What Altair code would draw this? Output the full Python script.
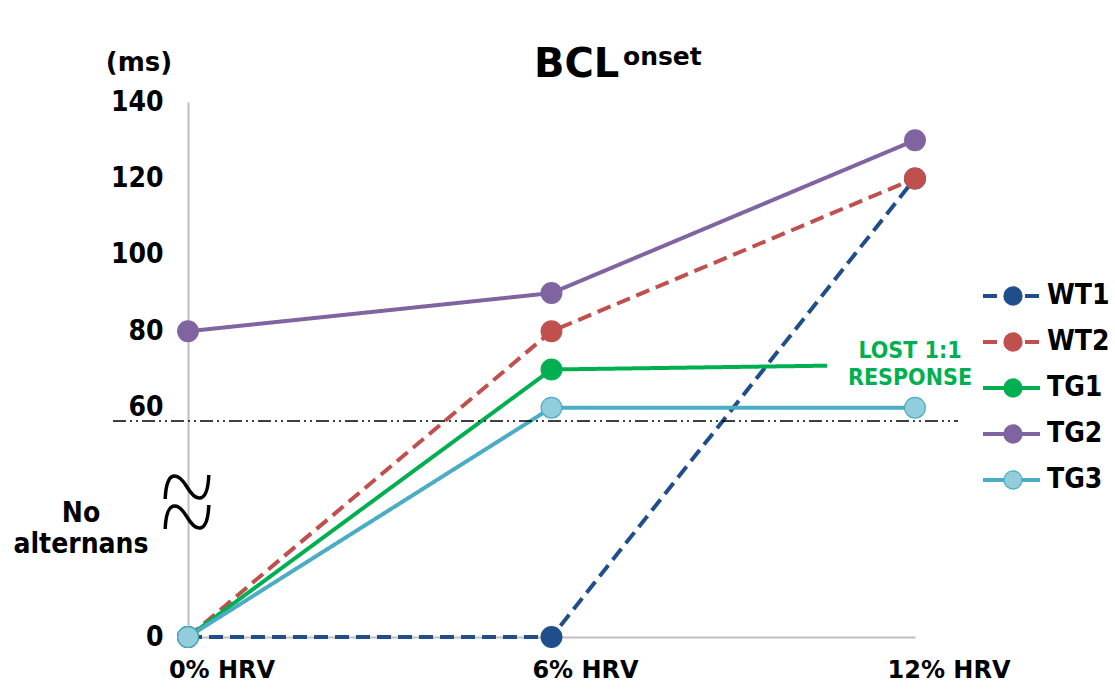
import altair as alt
import pandas as pd

# ---------------- data ----------------
hrv = [0, 6, 12]
hrv_labels = ["0% HRV", "6% HRV", "12% HRV"]
series = ["WT1", "WT2", "TG1", "TG2", "TG3"]
wt1 = [0, 0, 120]
wt2 = [0, 80, 120]
tg1 = [0, 70, None]          # lost 1:1 response at 12% HRV
tg1_tail_hrv = 10.55          # where the TG1 line stops
tg1_tail_val = 71
tg2 = [80, 90, 130]
tg3 = [0, 60, 60]
break_value = 56.5            # dash-dot axis-break line
y_ticks = [0, 60, 80, 100, 120, 140]

line_colors = ["#1F4E8A", "#C0504D", "#00B050", "#8064A2", "#4BACC6"]
marker_colors = ["#1F4E8A", "#C0504D", "#00B050", "#8064A2", "#92CDDC"]
marker_strokes = ["#1F4E8A", "#7A3330", "#00B050", "#8064A2", "#92CDDC"]
dashes = [[14, 7], [14, 7], [1, 0], [1, 0], [1, 0]]
legend_dashes = [[16, 30], [16, 30], [1, 0], [1, 0], [1, 0]]
widths = [4, 4, 3, 3, 3]
sizes = [430, 430, 360, 360, 360]

title_main = ["BCL"]
title_sup = ["onset"]
unit_label = ["(ms)"]
no_alt = ["No", "alternans"]
lost = ["LOST 1:1", "RESPONSE"]

FONT = "DejaVu Sans Condensed, DejaVu Sans"
FONT2 = "DejaVu Sans"

vals = {"WT1": wt1, "WT2": wt2, "TG1": tg1, "TG2": tg2, "TG3": tg3}
line_rows, point_rows = [], []
for s in series:
    for x, v in zip(hrv, vals[s]):
        if v is None:
            continue
        line_rows.append({"series": s, "hrv": x, "value": v})
        point_rows.append({"series": s, "hrv": x, "value": v})
    if s == "TG1":
        line_rows.append({"series": s, "hrv": tg1_tail_hrv, "value": tg1_tail_val})
lines_df = pd.DataFrame(line_rows)
points_df = pd.DataFrame(point_rows)
legend_df = pd.DataFrame({"series": series, "idx": list(range(len(series)))})
xlab_df = pd.DataFrame({"hrv": hrv, "label": hrv_labels})

yscale = alt.Scale(domain=[0, 140], nice=False, zero=True)
xscale = alt.Scale(domain=[0, 12], nice=False)
stroke_scale = alt.Scale(domain=series, range=line_colors)
dash_scale = alt.Scale(domain=series, range=dashes)
width_scale = alt.Scale(domain=series, range=widths)
fill_scale = alt.Scale(domain=series, range=marker_colors)
mstroke_scale = alt.Scale(domain=series, range=marker_strokes)
size_scale = alt.Scale(domain=series, range=sizes)

x_axis = alt.Axis(values=hrv, labels=False, title=None, grid=False,
                  ticks=False, tickSize=0, domainColor="#BFBFBF", domainWidth=2)
X = alt.X("hrv:Q", scale=xscale, axis=x_axis)

lines = alt.Chart(lines_df).mark_line().encode(
    x=X,
    y=alt.Y("value:Q", scale=yscale, axis=alt.Axis(
        values=y_ticks, title=None, grid=False, ticks=False, tickSize=0,
        domainColor="#BFBFBF", domainWidth=2,
        labelFont=FONT, labelFontSize=28, labelFontWeight="bold", labelColor="black",
        labelPadding=25)),
    stroke=alt.Stroke("series:N", scale=stroke_scale, legend=None),
    strokeDash=alt.StrokeDash("series:N", scale=dash_scale, legend=None),
    strokeWidth=alt.StrokeWidth("series:N", scale=width_scale, legend=None),
    detail="series:N",
)

xlabels = alt.Chart(xlab_df).mark_text(font=FONT2, fontSize=24, fontWeight="bold",
                                       color="black", align="center", baseline="alphabetic",
                                       dx=34).encode(
    x=X,
    y=alt.value(576),
    text="label:N",
)

points = alt.Chart(points_df).mark_point(filled=True, opacity=1, shape="circle", strokeWidth=1.2).encode(
    x=X,
    y=alt.Y("value:Q", scale=yscale, axis=None),
    fill=alt.Fill("series:N", scale=fill_scale, legend=None),
    stroke=alt.Stroke("series:N", scale=mstroke_scale, legend=None),
    size=alt.Size("series:N", scale=size_scale, legend=None),
)

break_rule = alt.Chart(pd.DataFrame({"v": [break_value]})).mark_rule(
    color="black", strokeWidth=1.5, strokeDash=[13, 4, 2, 4, 2, 4]).encode(
    y=alt.Y("v:Q", scale=yscale, axis=None),
    x=alt.value(-75), x2=alt.value(770))

squiggle_path = "M -1 0.55 C -0.95 -0.75, -0.45 -0.75, 0 0 C 0.45 0.75, 0.95 0.75, 1 -0.55"
sq_df = pd.DataFrame({"k": [1]})
squig1 = alt.Chart(sq_df).mark_point(shape=squiggle_path, filled=False, stroke="black",
                                     strokeWidth=3.5, size=1900, opacity=1).encode(
    x=alt.value(-1), y=alt.value(385))
squig2 = alt.Chart(sq_df).mark_point(shape=squiggle_path, filled=False, stroke="black",
                                     strokeWidth=3.5, size=1900, opacity=1).encode(
    x=alt.value(-1), y=alt.value(415))

def text_layer(txt, x, y, size, color="black", align="left", font=FONT2):
    return alt.Chart(pd.DataFrame({"t": [txt]})).mark_text(
        font=font, fontSize=size, fontWeight="bold", color=color, align=align,
        baseline="alphabetic").encode(text="t:N", x=alt.value(x), y=alt.value(y))

t_bcl = text_layer(title_main[0], 346, -25, 40)
t_sup = text_layer(title_sup[0], 435, -37, 25)
t_ms = text_layer(unit_label[0], -49, -31, 26, align="center")
t_no = text_layer(no_alt[0], -107, 420, 28, align="center", font=FONT)
t_alt = text_layer(no_alt[1], -107, 451, 28, align="center", font=FONT)
t_lost1 = text_layer(lost[0], 722, 256, 23, color="#00B050", align="center", font=FONT)
t_lost2 = text_layer(lost[1], 722, 283, 23, color="#00B050", align="center", font=FONT)

legend_y = alt.Scale(domain=[0, len(series) - 1], range=[194, 378], nice=False, zero=False)
LY = alt.Y("idx:Q", scale=legend_y, axis=None)
leg_lines = alt.Chart(legend_df).mark_rule().encode(
    y=LY,
    x=alt.value(795), x2=alt.value(852),
    stroke=alt.Stroke("series:N", scale=stroke_scale, legend=None),
    strokeDash=alt.StrokeDash("series:N", scale=alt.Scale(domain=series, range=legend_dashes), legend=None),
    strokeWidth=alt.StrokeWidth("series:N", scale=width_scale, legend=None),
)
leg_pts = alt.Chart(legend_df).mark_point(filled=True, opacity=1, shape="circle", strokeWidth=1.2).encode(
    y=LY,
    x=alt.value(825),
    fill=alt.Fill("series:N", scale=fill_scale, legend=None),
    stroke=alt.Stroke("series:N", scale=mstroke_scale, legend=None),
    size=alt.value(330),
)
leg_text = alt.Chart(legend_df).mark_text(font=FONT, fontSize=28, fontWeight="bold",
                                          color="black", align="left", baseline="middle").encode(
    y=LY,
    x=alt.value(859),
    text="series:N",
)

chart = alt.layer(
    lines, break_rule, points, squig1, squig2, xlabels,
    t_bcl, t_sup, t_ms, t_no, t_alt, t_lost1, t_lost2,
    leg_lines, leg_pts, leg_text,
).resolve_scale(y="independent").properties(
    width=727, height=535,
    padding={"left": 188, "top": 102, "right": 200, "bottom": 52},
    autosize=alt.AutoSizeParams(type="none"),
    background="white",
).configure_view(stroke=None)

chart.save("out.html", embed_options={"renderer": "svg", "actions": False})
